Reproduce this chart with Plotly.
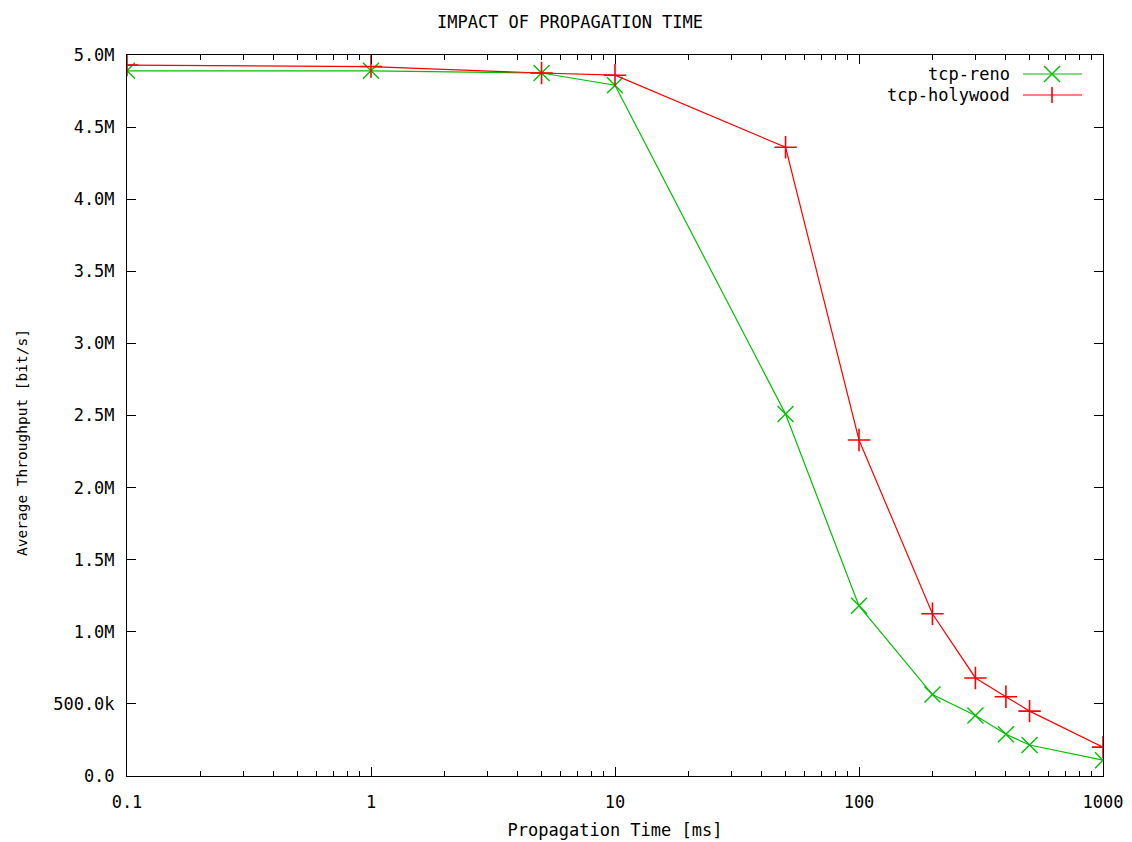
import plotly.graph_objects as go

x_ms = [0.1, 1, 5, 10, 50, 100, 200, 300, 400, 500, 1000]
reno = [4.89e6, 4.89e6, 4.875e6, 4.79e6, 2.51e6, 1.18e6, 0.565e6, 0.42e6, 0.29e6, 0.215e6, 0.11e6]
holywood = [4.93e6, 4.92e6, 4.875e6, 4.86e6, 4.36e6, 2.33e6, 1.125e6, 0.68e6, 0.55e6, 0.45e6, 0.20e6]

y_ticks = [0, 0.5e6, 1.0e6, 1.5e6, 2.0e6, 2.5e6, 3.0e6, 3.5e6, 4.0e6, 4.5e6, 5.0e6]
y_labels = ["0.0", "500.0k", "1.0M", "1.5M", "2.0M", "2.5M", "3.0M", "3.5M", "4.0M", "4.5M", "5.0M"]
x_ticks = [0.1, 1, 10, 100, 1000]
x_labels = ["0.1", "1", "10", "100", "1000"]
x_minor = [m * d for d in [0.1, 1, 10, 100] for m in range(2, 10)]

GREEN = "#00c000"
RED = "#ff0000"
FONT = "DejaVu Sans Mono"
FS = 17

fig = go.Figure()
fig.add_trace(go.Scatter(x=x_ms, y=reno, mode="lines+markers", name="tcp-reno",
                         line=dict(color=GREEN, width=1.2),
                         marker=dict(symbol="x-thin-open", size=16, color=GREEN,
                                     line=dict(color=GREEN, width=1.4)),
                         showlegend=False))
fig.add_trace(go.Scatter(x=x_ms, y=holywood, mode="lines+markers", name="tcp-holywood",
                         line=dict(color=RED, width=1.2),
                         marker=dict(symbol="cross-thin-open", size=16, color=RED,
                                     line=dict(color=RED, width=1.6)),
                         showlegend=False))

# the page body has an 8px margin, so the figure is drawn 8px in from the window corner
OFF = 8
W, H = 1132 - OFF, 842 - OFF
PL, PR, PT, PB = 127, 1103, 55, 776  # plot frame in window pixels
L, T = PL - OFF, PT - OFF
R = W - (PR - OFF)
B = H - (PB - OFF)

def px(xp):
    return (xp - PL) / (PR - PL)

def py(yp):
    return 1 - (yp - PT) / (PB - PT)

shapes = []
annotations = []
legend_items = [("tcp-reno", GREEN, 74, "x"), ("tcp-holywood", RED, 95, "+")]
for name, col, ypx, sym in legend_items:
    annotations.append(dict(x=px(1012), y=py(ypx), xref="paper", yref="paper",
                            text=name, showarrow=False, xanchor="right", yanchor="middle",
                            font=dict(family=FONT, size=FS, color="black")))
    shapes.append(dict(type="line", xref="paper", yref="paper",
                       x0=px(1023), x1=px(1082), y0=py(ypx), y1=py(ypx),
                       line=dict(color=col, width=1.2)))
    cx, s = 1052, 8
    if sym == "x":
        shapes.append(dict(type="line", xref="paper", yref="paper", x0=px(cx - s), x1=px(cx + s),
                           y0=py(ypx - s), y1=py(ypx + s), line=dict(color=col, width=1.4)))
        shapes.append(dict(type="line", xref="paper", yref="paper", x0=px(cx - s), x1=px(cx + s),
                           y0=py(ypx + s), y1=py(ypx - s), line=dict(color=col, width=1.4)))
    else:
        shapes.append(dict(type="line", xref="paper", yref="paper", x0=px(cx), x1=px(cx),
                           y0=py(ypx - s), y1=py(ypx + s), line=dict(color=col, width=1.6)))

# y-axis title (gnuplot places it slightly below the frame centre)
annotations.append(dict(x=px(22), y=py(443), xref="paper", yref="paper",
                        text="Average Throughput [bit/s]", textangle=-90, showarrow=False,
                        xanchor="center", yanchor="middle",
                        font=dict(family=FONT, size=14.5, color="black")))

fig.update_layout(
    width=W, height=H,
    margin=dict(l=L, r=R, t=T, b=B),
    paper_bgcolor="white", plot_bgcolor="white",
    font=dict(family=FONT, size=FS, color="black"),
    title=dict(text="IMPACT OF PROPAGATION TIME", x=0.5, xanchor="center",
               y=1 - (22 - OFF) / H, yanchor="middle", font=dict(family=FONT, size=FS)),
    shapes=shapes, annotations=annotations,
)
fig.update_xaxes(type="log", range=[-1, 3], tickvals=x_ticks, ticktext=x_labels,
                 ticks="inside", ticklen=9, tickcolor="black", tickwidth=1,
                 minor=dict(tickvals=x_minor, ticks="inside", ticklen=5, tickcolor="black"),
                 showline=True, linecolor="black", linewidth=1, mirror="ticks",
                 showgrid=False, zeroline=False, ticklabelstandoff=11, automargin=False,
                 title=dict(text="Propagation Time [ms]", standoff=12, font=dict(size=FS)),
                 tickfont=dict(family=FONT, size=FS))
fig.update_yaxes(range=[0, 5.0e6], tickvals=y_ticks, ticktext=y_labels,
                 ticks="inside", ticklen=9, tickcolor="black", tickwidth=1,
                 showline=True, linecolor="black", linewidth=1, mirror="ticks",
                 showgrid=False, zeroline=False, ticklabelstandoff=8, automargin=False,
                 tickfont=dict(family=FONT, size=FS))

fig.write_html("out.html")
